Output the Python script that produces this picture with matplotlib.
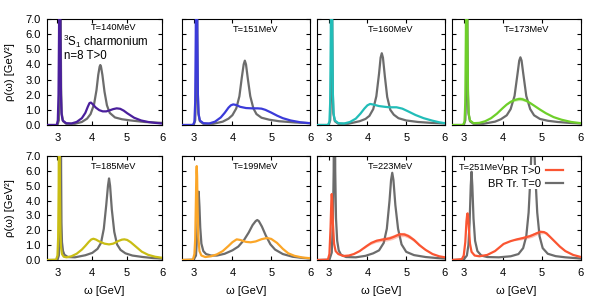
import matplotlib

matplotlib.use("Agg")
import matplotlib.pyplot as plt
from matplotlib.lines import Line2D

plt.rcParams["font.family"] = ["Liberation Sans", "DejaVu Sans"]
plt.rcParams["mathtext.fontset"] = "custom"
plt.rcParams["mathtext.rm"] = "Liberation Sans"
plt.rcParams["mathtext.it"] = "Liberation Sans:italic"

temps = [140, 151, 160, 173, 185, 199, 223, 251]
x_ticks = [3, 4, 5, 6]
y_ticks = [0, 1, 2, 3, 4, 5, 6, 7]

# T = 140 MeV
w0_140 = [2.70, 3.00, 3.04, 3.06, 3.07, 3.075, 3.085, 3.095, 3.105, 3.12, 3.16, 3.25, 3.50, 3.70, 3.85,
          3.95, 4.05, 4.12, 4.17, 4.21, 4.23, 4.25, 4.29, 4.35, 4.42, 4.50, 4.65, 4.85, 5.10, 5.50, 6.00]
r0_140 = [0.0, 0.0, 0.3, 2.0, 6.0, 12.0, 12.0, 6.0, 2.5, 0.8, 0.25, 0.08, 0.08, 0.2, 0.42,
          0.72, 1.36, 2.3, 3.3, 3.85, 3.96, 3.85, 3.3, 2.2, 1.3, 0.8, 0.5, 0.38, 0.3, 0.2, 0.14]
w_140 = [2.70, 2.98, 3.01, 3.03, 3.045, 3.055, 3.075, 3.085, 3.10, 3.12, 3.15, 3.25, 3.40, 3.55, 3.70,
         3.80, 3.87, 3.92, 3.96, 4.00, 4.10, 4.20, 4.30, 4.40, 4.50, 4.60, 4.70, 4.80, 4.90, 5.00,
         5.20, 5.40, 5.60, 5.80, 6.00]
r_140 = [0.0, 0.0, 0.3, 2.0, 6.0, 12.0, 12.0, 6.0, 2.0, 0.7, 0.3, 0.12, 0.1, 0.2, 0.45,
         0.8, 1.2, 1.45, 1.48, 1.4, 1.15, 0.98, 0.9, 0.9, 0.97, 1.05, 1.1, 1.07, 0.95, 0.78,
         0.48, 0.3, 0.2, 0.14, 0.1]

# T = 151 MeV
w0_151 = [2.70, 3.00, 3.04, 3.06, 3.07, 3.075, 3.085, 3.095, 3.105, 3.12, 3.16, 3.25, 3.50, 3.75, 3.90,
          4.00, 4.10, 4.18, 4.24, 4.29, 4.32, 4.35, 4.40, 4.46, 4.54, 4.62, 4.75, 4.95, 5.20, 5.60, 6.00]
r0_151 = [0.0, 0.0, 0.3, 2.0, 6.0, 12.0, 12.0, 6.0, 2.5, 0.8, 0.25, 0.08, 0.08, 0.22, 0.42,
          0.65, 1.1, 1.9, 3.1, 4.0, 4.25, 4.0, 3.0, 1.9, 1.1, 0.72, 0.48, 0.35, 0.25, 0.17, 0.12]
w_151 = [2.70, 2.98, 3.02, 3.04, 3.055, 3.065, 3.085, 3.095, 3.11, 3.13, 3.16, 3.25, 3.40, 3.55, 3.70,
         3.80, 3.90, 3.96, 4.02, 4.10, 4.20, 4.35, 4.50, 4.65, 4.75, 4.85, 5.00, 5.15, 5.30, 5.50,
         5.75, 6.00]
r_151 = [0.0, 0.0, 0.2, 1.5, 6.0, 12.0, 12.0, 6.0, 2.0, 0.7, 0.3, 0.12, 0.1, 0.22, 0.5,
         0.8, 1.15, 1.3, 1.36, 1.32, 1.2, 1.12, 1.1, 1.1, 1.08, 1.0, 0.82, 0.62, 0.45, 0.3,
         0.18, 0.12]

# T = 160 MeV
w0_160 = [2.70, 3.00, 3.04, 3.06, 3.07, 3.075, 3.085, 3.095, 3.105, 3.12, 3.16, 3.25, 3.50, 3.80, 3.95,
          4.05, 4.15, 4.23, 4.30, 4.34, 4.37, 4.40, 4.45, 4.51, 4.59, 4.68, 4.80, 5.00, 5.30, 5.65, 6.00]
r0_160 = [0.0, 0.0, 0.3, 2.0, 6.0, 12.0, 12.0, 6.0, 2.5, 0.8, 0.25, 0.08, 0.08, 0.25, 0.4,
          0.6, 1.05, 1.9, 3.4, 4.45, 4.74, 4.45, 3.2, 1.85, 1.0, 0.68, 0.45, 0.3, 0.2, 0.14, 0.1]
w_160 = [2.70, 2.98, 3.02, 3.04, 3.055, 3.065, 3.085, 3.095, 3.11, 3.13, 3.16, 3.25, 3.40, 3.55, 3.70,
         3.82, 3.92, 4.00, 4.07, 4.15, 4.30, 4.45, 4.57, 4.75, 4.90, 5.05, 5.24, 5.45, 5.67, 5.85,
         6.00]
r_160 = [0.0, 0.0, 0.2, 1.5, 6.0, 12.0, 12.0, 6.0, 2.0, 0.7, 0.3, 0.12, 0.1, 0.2, 0.42,
         0.75, 1.08, 1.3, 1.39, 1.35, 1.25, 1.2, 1.17, 1.17, 1.08, 0.9, 0.66, 0.45, 0.29, 0.18,
         0.12]

# T = 173 MeV
w0_173 = [2.70, 3.00, 3.04, 3.06, 3.07, 3.075, 3.085, 3.095, 3.105, 3.12, 3.16, 3.25, 3.50, 3.80, 3.95,
          4.10, 4.20, 4.30, 4.38, 4.42, 4.45, 4.48, 4.52, 4.60, 4.70, 4.80, 4.95, 5.15, 5.40, 5.70, 6.00]
r0_173 = [0.0, 0.0, 0.3, 2.0, 6.0, 12.0, 12.0, 6.0, 2.5, 0.8, 0.25, 0.08, 0.08, 0.22, 0.38,
          0.64, 1.05, 1.92, 3.45, 4.25, 4.47, 4.25, 3.45, 1.92, 1.05, 0.64, 0.4, 0.28, 0.2, 0.14, 0.1]
w_173 = [2.70, 2.98, 3.02, 3.04, 3.055, 3.065, 3.085, 3.095, 3.11, 3.13, 3.16, 3.25, 3.40, 3.55, 3.70,
         3.85, 4.00, 4.10, 4.20, 4.30, 4.40, 4.45, 4.50, 4.60, 4.70, 4.80, 4.95, 5.10, 5.30, 5.50,
         5.75, 6.00]
r_173 = [0.0, 0.0, 0.2, 1.5, 6.0, 12.0, 12.0, 6.0, 2.0, 0.7, 0.3, 0.12, 0.14, 0.25, 0.45,
         0.75, 1.12, 1.35, 1.53, 1.65, 1.71, 1.72, 1.7, 1.6, 1.45, 1.28, 1.02, 0.78, 0.52, 0.35,
         0.2, 0.12]
bx_173 = [4.10, 4.20, 4.30, 4.40, 4.50, 4.60, 4.70, 4.80]
blo_173 = [1.33, 1.47, 1.56, 1.61, 1.60, 1.52, 1.40, 1.26]
bhi_173 = [1.38, 1.60, 1.76, 1.86, 1.84, 1.70, 1.51, 1.31]

# T = 185 MeV
w0_185 = [2.70, 3.00, 3.04, 3.06, 3.075, 3.085, 3.095, 3.105, 3.115, 3.13, 3.16, 3.20, 3.30, 3.50, 3.80,
          4.00, 4.15, 4.25, 4.33, 4.40, 4.45, 4.48, 4.51, 4.56, 4.63, 4.71, 4.81, 4.95, 5.15, 5.45,
          5.75, 6.00]
r0_185 = [0.0, 0.0, 0.3, 1.8, 6.0, 12.0, 12.0, 6.0, 2.5, 1.2, 0.6, 0.35, 0.2, 0.18, 0.32,
          0.48, 0.75, 1.15, 2.1, 3.7, 5.0, 5.49, 5.0, 3.4, 1.9, 1.05, 0.68, 0.45, 0.3, 0.2,
          0.13, 0.1]
w_185 = [2.70, 2.96, 3.00, 3.02, 3.035, 3.045, 3.06, 3.07, 3.085, 3.10, 3.13, 3.18, 3.26, 3.40, 3.55,
         3.70, 3.80, 3.90, 3.97, 4.03, 4.10, 4.20, 4.35, 4.48, 4.60, 4.75, 4.85, 4.92, 5.00, 5.10,
         5.25, 5.42, 5.60, 5.80, 6.00]
r_185 = [0.0, 0.02, 0.3, 1.5, 5.0, 12.0, 12.0, 5.0, 2.0, 0.9, 0.4, 0.22, 0.18, 0.25, 0.42,
         0.7, 0.95, 1.22, 1.38, 1.43, 1.38, 1.25, 1.1, 1.05, 1.1, 1.28, 1.37, 1.39, 1.35, 1.2,
         0.9, 0.56, 0.35, 0.22, 0.15]

# T = 199 MeV
w0_199 = [2.70, 3.00, 3.06, 3.09, 3.11, 3.13, 3.15, 3.17, 3.20, 3.25, 3.32, 3.45, 3.60, 3.80, 4.00,
          4.15, 4.30, 4.42, 4.52, 4.60, 4.64, 4.68, 4.76, 4.86, 4.98, 5.10, 5.30, 5.55, 5.80, 6.00]
r0_199 = [0.0, 0.02, 0.3, 1.6, 3.5, 4.6, 3.6, 2.2, 1.1, 0.6, 0.4, 0.3, 0.3, 0.42, 0.65,
          0.9, 1.35, 1.85, 2.35, 2.62, 2.69, 2.62, 2.25, 1.65, 1.05, 0.7, 0.4, 0.22, 0.14, 0.1]
w_199 = [2.70, 2.98, 3.02, 3.04, 3.06, 3.07, 3.08, 3.09, 3.10, 3.12, 3.15, 3.20, 3.30, 3.45, 3.60,
         3.75, 3.90, 4.00, 4.11, 4.20, 4.35, 4.47, 4.60, 4.75, 4.89, 5.00, 5.15, 5.30, 5.44, 5.60,
         5.80, 6.00]
r_199 = [0.0, 0.02, 0.4, 1.4, 4.2, 5.9, 6.32, 5.6, 3.8, 1.6, 0.6, 0.3, 0.2, 0.25, 0.38,
         0.6, 0.95, 1.2, 1.39, 1.35, 1.22, 1.19, 1.25, 1.4, 1.48, 1.42, 1.15, 0.75, 0.45, 0.28,
         0.17, 0.12]

# T = 223 MeV
w0_223 = [2.70, 3.02, 3.08, 3.11, 3.13, 3.14, 3.16, 3.17, 3.19, 3.22, 3.26, 3.32, 3.45, 3.70, 3.95,
          4.15, 4.30, 4.42, 4.50, 4.57, 4.61, 4.64, 4.67, 4.72, 4.79, 4.88, 5.00, 5.20, 5.50, 5.80,
          6.00]
r0_223 = [0.0, 0.02, 0.5, 2.5, 6.0, 12.0, 12.0, 6.0, 2.8, 1.3, 0.65, 0.35, 0.2, 0.18, 0.28,
          0.45, 0.65, 1.15, 2.1, 4.0, 5.4, 5.87, 5.4, 3.7, 2.1, 1.05, 0.55, 0.33, 0.2, 0.13,
          0.1]
w_223 = [2.70, 2.98, 3.02, 3.05, 3.07, 3.08, 3.09, 3.11, 3.14, 3.18, 3.25, 3.38, 3.52, 3.65, 3.80,
         3.98, 4.10, 4.24, 4.40, 4.58, 4.70, 4.83, 4.95, 5.05, 5.20, 5.34, 5.50, 5.68, 5.85, 6.00]
r_223 = [0.0, 0.02, 0.4, 2.2, 4.0, 4.44, 4.1, 2.5, 1.1, 0.6, 0.4, 0.27, 0.3, 0.4, 0.6,
         0.94, 1.15, 1.3, 1.38, 1.46, 1.58, 1.73, 1.72, 1.62, 1.35, 1.0, 0.68, 0.4, 0.25, 0.18]
bx_223 = [3.90, 4.05, 4.20, 4.35, 4.50, 4.65, 4.80, 4.95, 5.10, 5.25, 5.40, 5.55]
blo_223 = [0.74, 1.00, 1.16, 1.24, 1.28, 1.38, 1.55, 1.58, 1.42, 1.14, 0.81, 0.56]
bhi_223 = [0.82, 1.14, 1.36, 1.48, 1.56, 1.68, 1.85, 1.86, 1.68, 1.34, 0.95, 0.64]

# T = 251 MeV
w0_251 = [2.70, 3.00, 3.08, 3.12, 3.15, 3.18, 3.20, 3.22, 3.25, 3.29, 3.35, 3.45, 3.60, 3.90, 4.20,
          4.40, 4.52, 4.60, 4.66, 4.71, 4.74, 4.77, 4.80, 4.83, 4.88, 4.94, 5.02, 5.15, 5.35, 5.60,
          6.00]
r0_251 = [0.0, 0.03, 0.3, 1.0, 2.5, 5.0, 5.94, 5.0, 2.8, 1.3, 0.6, 0.3, 0.2, 0.18, 0.25,
          0.4, 0.8, 1.6, 3.2, 5.8, 8.0, 9.0, 8.0, 5.8, 3.2, 1.6, 0.8, 0.42, 0.26, 0.18,
          0.1]
w_251 = [2.70, 2.95, 3.00, 3.04, 3.07, 3.09, 3.10, 3.11, 3.13, 3.16, 3.20, 3.28, 3.40, 3.60, 3.80,
         4.02, 4.20, 4.36, 4.50, 4.70, 4.85, 4.96, 5.05, 5.12, 5.25, 5.46, 5.60, 5.80, 6.00]
r_251 = [0.0, 0.05, 0.3, 1.2, 2.6, 3.1, 3.14, 3.0, 2.2, 1.1, 0.55, 0.3, 0.25, 0.34, 0.6,
         1.08, 1.27, 1.39, 1.47, 1.61, 1.78, 1.9, 1.88, 1.79, 1.45, 0.9, 0.6, 0.34, 0.2]
bx_251 = [4.30, 4.45, 4.60, 4.75, 4.90, 5.05, 5.20, 5.35]
blo_251 = [1.30, 1.35, 1.42, 1.53, 1.72, 1.78, 1.51, 1.14]
bhi_251 = [1.40, 1.53, 1.66, 1.79, 1.96, 1.98, 1.65, 1.22]

colors = ["#4a1f9c", "#3b3bd9", "#22bdb8", "#6ecf2a", "#c9bd14", "#fba628", "#fa5532", "#fa5532"]
gray = "#6c6c6c"

# pixel boxes of the panels: left, right, top, bottom
col_px = [(47, 162), (182, 310), (317, 445), (452, 581)]
row_px = [(19, 125), (156, 260)]


def make_axes(fig):
    axes = []
    for top, bottom in row_px:
        for left, right in col_px:
            ax = fig.add_axes([left / 600, 1 - bottom / 300, (right - left) / 600, (bottom - top) / 300])
            axes.append(ax)
    return axes


def style_axes(ax, show_ylabels):
    ax.set_xlim(2.7, 6.0)
    ax.set_ylim(0, 7)
    ax.set_xticks(x_ticks)
    ax.set_xticklabels([str(t) for t in x_ticks])
    ax.set_yticks(y_ticks)
    if show_ylabels:
        ax.set_yticklabels([f"{t:.1f}" for t in y_ticks])
    else:
        ax.set_yticklabels([])
    ax.tick_params(axis="both", direction="in", top=True, right=True, length=3.2, width=0.8,
                   labelsize=8, colors="black")
    ax.tick_params(axis="x", pad=5.5)
    ax.tick_params(axis="y", pad=4.5)
    for spine in ax.spines.values():
        spine.set_linewidth(0.8)


def main():
    fig = plt.figure(figsize=(6, 3), dpi=100)
    axes = make_axes(fig)

    panels = [
        (w_140, r_140, w0_140, r0_140, None),
        (w_151, r_151, w0_151, r0_151, None),
        (w_160, r_160, w0_160, r0_160, None),
        (w_173, r_173, w0_173, r0_173, (bx_173, blo_173, bhi_173)),
        (w_185, r_185, w0_185, r0_185, None),
        (w_199, r_199, w0_199, r0_199, None),
        (w_223, r_223, w0_223, r0_223, (bx_223, blo_223, bhi_223)),
        (w_251, r_251, w0_251, r0_251, (bx_251, blo_251, bhi_251)),
    ]

    for i, (ax, (w, r, w0, r0, band)) in enumerate(zip(axes, panels)):
        color = colors[i]
        ax.plot(w0, r0, color=gray, lw=1.6, zorder=2, solid_joinstyle="round")
        if band is not None:
            ax.fill_between(band[0], band[1], band[2], color=color, alpha=0.35, lw=0, zorder=3)
        ax.plot(w, r, color=color, lw=1.6, zorder=3, solid_joinstyle="round")

        style_axes(ax, show_ylabels=(i % 4 == 0))

        if i == 7:
            tx, ty = 3.45, 6.22
        elif i == 0:
            tx, ty = 4.6, 6.42
        else:
            tx, ty = 4.6, 6.32
        ax.text(tx, ty, f"T={temps[i]}MeV", ha="center", va="center", fontsize=6.7, zorder=6)

        if i >= 4:
            fig.text((col_px[i % 4][0] + col_px[i % 4][1]) / 2 / 600, 1 - 291 / 300, "ω [GeV]",
                     ha="center", va="center", fontsize=8)

    axes[0].text(3.15, 5.5, "$^{3}$S$_{1}$ charmonium", ha="left", va="center", fontsize=8.3)
    axes[0].text(3.18, 4.58, "n=8 T>0", ha="left", va="center", fontsize=8.3)

    for top, bottom in row_px:
        fig.text(10 / 600, 1 - (top + bottom) / 2 / 300, "ρ(ω) [GeV²]", rotation=90,
                 ha="center", va="center", fontsize=8)

    handles = [
        Line2D([], [], color=colors[7], lw=1.6),
        Line2D([], [], color=gray, lw=1.6),
    ]
    leg = axes[7].legend(handles, ["BR T>0", "BR Tr. T=0"], loc="upper right",
                         bbox_to_anchor=(0.865, 0.91), markerfirst=False, fontsize=8,
                         handlelength=1.5, handletextpad=0.5, labelspacing=0.25,
                         borderpad=0.05, borderaxespad=0.0, frameon=True, fancybox=False)
    leg.get_frame().set_facecolor("white")
    leg.get_frame().set_edgecolor("none")
    leg.get_frame().set_alpha(1.0)
    leg.set_zorder(5)

    fig.savefig("out.png", dpi=100)
    plt.close(fig)


if __name__ == "__main__":
    main()
